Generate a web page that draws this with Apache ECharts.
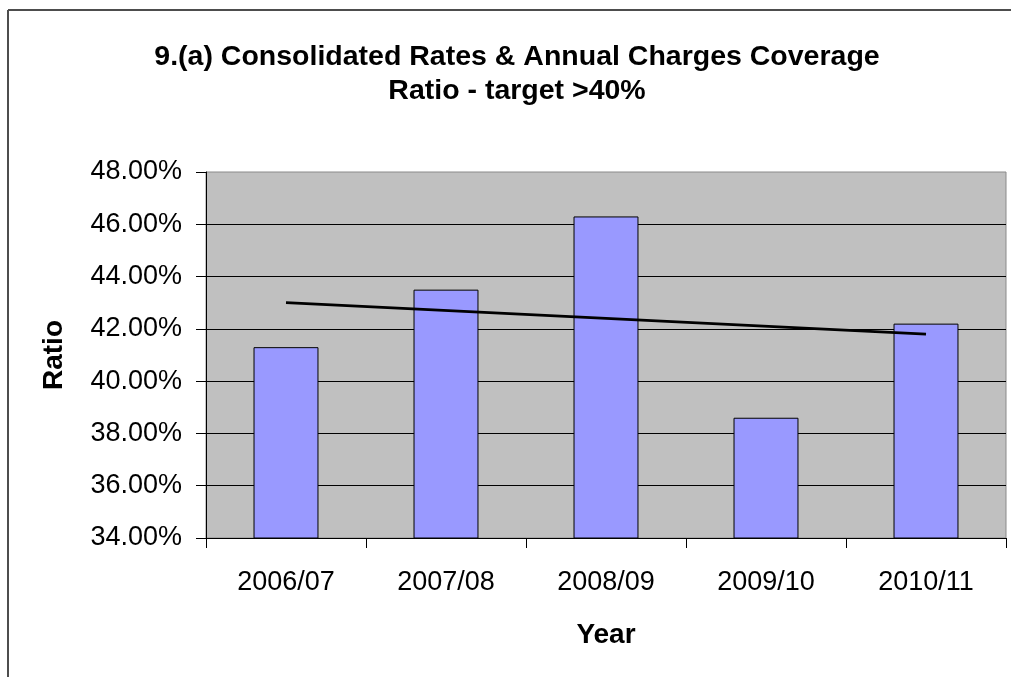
<!DOCTYPE html>
<html>
<head>
<meta charset="utf-8">
<script src="https://cdn.jsdelivr.net/npm/echarts@6/dist/echarts.min.js"></script>
<style>
  html, body { margin: 0; padding: 0; background: #fff; }
  #chart { width: 1011px; height: 677px; }
</style>
</head>
<body>
<div id="chart"></div>
<script>
// Financial years on the category axis
const categories = ['2006/07', '2007/08', '2008/09', '2009/10', '2010/11'];
// Coverage ratio per year, in percent
const ratioValues = [41.3, 43.5, 46.3, 38.6, 42.2];
// Linear trend line: value at the first and at the last year
const trendEnds = [43.0, 41.8];
// Value axis range and step, in percent
const yMin = 34;
const yMax = 48;
const yStep = 2;

const FONT = 'Arial, "Liberation Sans", sans-serif';

const chart = echarts.init(document.getElementById('chart'));

const frameStyle = { stroke: '#4d4d4d', lineWidth: 2 };

chart.setOption({
  animation: false,
  backgroundColor: '#ffffff',
  title: {
    text: '9.(a) Consolidated Rates & Annual Charges Coverage\nRatio - target >40%',
    left: 512,
    top: 35,
    textAlign: 'center',
    textStyle: {
      fontFamily: FONT,
      fontSize: 28.5,
      fontWeight: 'bold',
      color: '#000',
      lineHeight: 34
    }
  },
  graphic: [
    // frame edges: top and left (the frame continues past the window)
    { type: 'line', shape: { x1: 8, y1: 10, x2: 1011, y2: 10 }, style: frameStyle, silent: true },
    { type: 'line', shape: { x1: 8, y1: 10, x2: 8, y2: 677 }, style: frameStyle, silent: true }
  ],
  grid: {
    left: 206,
    right: 5,
    top: 172,
    bottom: 139,
    show: true,
    backgroundColor: '#c0c0c0',
    borderColor: '#8a8a8a',
    borderWidth: 1
  },
  xAxis: {
    type: 'category',
    data: categories,
    name: 'Year',
    nameLocation: 'middle',
    nameGap: 83,
    nameTextStyle: { fontFamily: FONT, fontSize: 28, fontWeight: 'bold', color: '#000' },
    axisLine: { show: true, lineStyle: { color: '#000', width: 1 } },
    axisTick: { show: true, inside: false, length: 10, lineStyle: { color: '#000' } },
    axisLabel: { fontFamily: FONT, fontSize: 27, color: '#000', margin: 31 },
    splitLine: { show: false }
  },
  yAxis: {
    type: 'value',
    min: yMin,
    max: yMax,
    interval: yStep,
    name: 'Ratio',
    nameLocation: 'middle',
    nameRotate: 90,
    nameGap: 138,
    nameTextStyle: { fontFamily: FONT, fontSize: 28, fontWeight: 'bold', color: '#000' },
    axisLine: { show: true, lineStyle: { color: '#000', width: 1 } },
    axisTick: { show: true, inside: false, length: 10, lineStyle: { color: '#000' } },
    axisLabel: {
      fontFamily: FONT,
      fontSize: 27,
      color: '#000',
      margin: 24,
      formatter: v => v.toFixed(2) + '%'
    },
    splitLine: { show: true, showMaxLine: false, lineStyle: { color: '#000', width: 1 } }
  },
  series: [
    {
      name: 'Ratio',
      type: 'bar',
      data: ratioValues,
      barWidth: '40.6%',
      itemStyle: { color: '#9999ff', borderColor: '#000', borderWidth: 1 },
      z: 2
    },
    {
      name: 'Trend',
      type: 'line',
      data: [[0, trendEnds[0]], [categories.length - 1, trendEnds[1]]],
      showSymbol: false,
      symbol: 'none',
      lineStyle: { color: '#000', width: 2.8 },
      z: 3
    }
  ]
});
</script>
</body>
</html>
